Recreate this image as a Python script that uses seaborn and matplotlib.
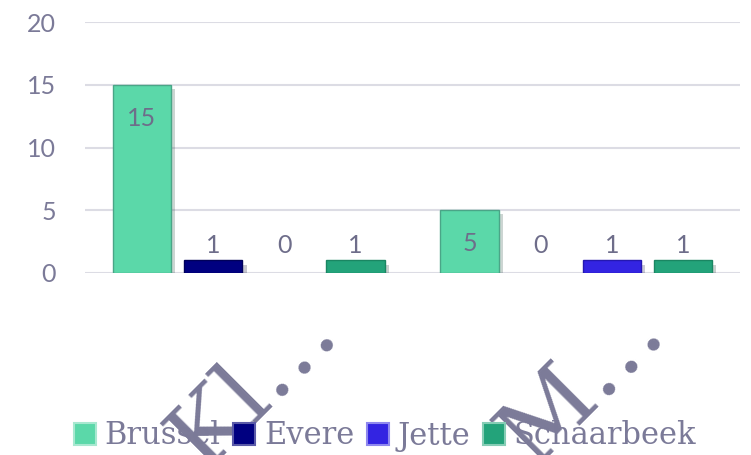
import pandas as pd
import matplotlib.pyplot as plt
import matplotlib.transforms as mtransforms
import matplotlib.patheffects as pe
import seaborn as sns

# chart data
categories = ['Kl…', 'M…']
areas = ['Brussel', 'Evere', 'Jette', 'Schaarbeek']
values = {
    'Brussel': [15, 5],
    'Evere': [1, 0],
    'Jette': [0, 1],
    'Schaarbeek': [1, 1],
}
colors = ['#5bd8a9', '#000080', '#3324e2', '#23a37a']
edges = ['#4aa587', '#00005a', '#2418b0', '#1a8662']
legend_edges = ['#a8e8d0', '#5a5aa8', '#8f88ee', '#86cdb5']

text_color = '#7b7a98'
serif = ['DejaVu Serif']

rows = []
for area in areas:
    for cat, v in zip(categories, values[area]):
        rows.append({'cat': cat, 'area': area, 'val': v})
df = pd.DataFrame(rows)

sns.set_style('white')
plt.rcParams['font.family'] = ['Lato', 'DejaVu Sans']

fig = plt.figure(figsize=(7.51, 4.55), dpi=100)
ax = fig.add_axes([85 / 751, 1 - 273 / 455, (740 - 85) / 751, (273 - 22) / 455])

sns.barplot(data=df, x='cat', y='val', hue='area', hue_order=areas,
            palette=colors, saturation=1, width=0.87, gap=0.18, ax=ax,
            legend=True, linewidth=1, zorder=3)

# edge colours, shadows and value labels
for i, container in enumerate(ax.containers):
    for j, bar in enumerate(container):
        v = values[areas[i]][j]
        x = bar.get_x() + bar.get_width() / 2
        if v == 0:
            bar.set_linewidth(0)
        else:
            bar.set_edgecolor(edges[i])
            bar.set_path_effects([pe.SimplePatchShadow(offset=(3, -3), alpha=0.22), pe.Normal()])
        if v >= 5:
            ax.annotate(str(v), (x, v), xytext=(0, -24), textcoords='offset points',
                        ha='center', va='center', fontsize=18, color='#6e6d8a')
        else:
            ax.annotate(str(v), (x, 0), xytext=(0, 20), textcoords='offset points',
                        ha='center', va='center', fontsize=18, color='#6e6d8a')

ax.set_ylim(0, 20)
ax.set_xlim(-0.5, 1.5)
ax.set_yticks([0, 5, 10, 15, 20])
ax.yaxis.grid(True, color='#dcdce4', linewidth=1.5, zorder=0)
ax.set_axisbelow(True)
for s in ax.spines.values():
    s.set_visible(False)
ax.set_xlabel('')
ax.set_ylabel('')
ax.tick_params(axis='y', length=0, pad=21, labelsize=18, labelcolor=text_color)
ax.tick_params(axis='x', length=0, pad=43)
ax.set_xticks(range(len(categories)))
ax.set_xticklabels(categories, rotation=45, ha='right', va='baseline',
                   rotation_mode='anchor', family=serif, fontsize=68,
                   color=text_color)
shift = mtransforms.ScaledTranslation(92 / 100, 0, fig.dpi_scale_trans)
for lab in ax.get_xticklabels():
    lab.set_transform(lab.get_transform() + shift)
    lab.set_zorder(5)

leg = ax.legend(loc='center', bbox_to_anchor=(385 / 751, 1 - 436 / 455),
                bbox_transform=fig.transFigure, ncol=4, frameon=False,
                handlelength=0.72, handleheight=0.72, handletextpad=0.3,
                columnspacing=0.4, borderpad=0, prop={'family': serif, 'size': 22})
for t in leg.get_texts():
    t.set_color(text_color)
for h, ec in zip(leg.legend_handles, legend_edges):
    h.set_edgecolor(ec)
    h.set_linewidth(1.5)
    h.set_path_effects([])

fig.savefig('out.png', dpi=100)
